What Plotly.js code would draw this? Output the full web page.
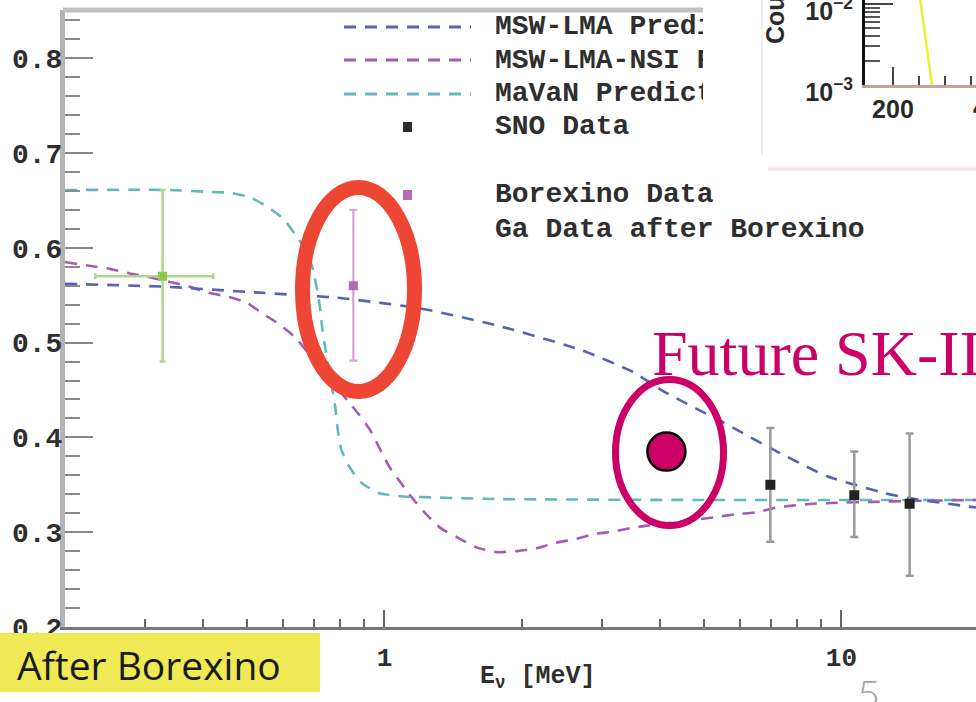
<!DOCTYPE html>
<html><head><meta charset="utf-8">
<script src="https://cdn.plot.ly/plotly-3.0.1.min.js"></script>
<style>
html,body{margin:0;padding:0;background:#fff;overflow:hidden;width:976px;height:702px}
#main{position:absolute;left:0;top:0;width:976px;height:702px}
#inset{position:absolute;left:703px;top:0;width:273px;height:175px;background:#fff}
</style></head><body>
<div id="main"></div><div id="inset"></div>
<script>
// ---------------- data ----------------
const mswE = [0.2, 0.33, 0.52, 0.8, 1.2, 1.8, 2.7, 3.5, 4.1, 5.5, 7.1, 9.3, 12.5, 14, 19.7];
const mswP = [0.562, 0.559, 0.553, 0.547, 0.536, 0.517, 0.492, 0.469, 0.448, 0.416, 0.387, 0.359, 0.341, 0.336, 0.326];

const nsiE = [0.2, 0.226, 0.25, 0.277, 0.306, 0.339, 0.369, 0.408, 0.458, 0.5, 0.54, 0.59, 0.636, 0.72, 0.83, 0.88, 0.93, 0.975, 1.025, 1.09, 1.16, 1.24, 1.33, 1.45, 1.59, 1.76, 1.95, 2.15, 2.38, 2.63, 2.88, 3.19, 3.52, 5.33, 5.89, 6.52, 7.21, 7.81, 8.64, 9.75, 11.7, 14.3, 19.7];
const nsiP = [0.585, 0.581, 0.578, 0.573, 0.569, 0.564, 0.560, 0.553, 0.548, 0.542, 0.531, 0.519, 0.506, 0.475, 0.439, 0.424, 0.408, 0.389, 0.369, 0.351, 0.334, 0.318, 0.304, 0.294, 0.284, 0.279, 0.280, 0.283, 0.289, 0.293, 0.298, 0.301, 0.305, 0.316, 0.319, 0.321, 0.326, 0.328, 0.330, 0.331, 0.332, 0.333, 0.334];

const mavE = [0.2, 0.34, 0.41, 0.46, 0.51, 0.555, 0.60, 0.636, 0.668, 0.696, 0.714, 0.724, 0.732, 0.743, 0.781, 0.789, 0.805, 0.838, 0.891, 0.975, 1.08, 1.76, 5, 19.7];
const mavP = [0.661, 0.661, 0.659, 0.658, 0.653, 0.643, 0.631, 0.615, 0.600, 0.579, 0.553, 0.534, 0.513, 0.493, 0.431, 0.411, 0.387, 0.369, 0.352, 0.341, 0.338, 0.335, 0.334, 0.334];

const gaE = [0.327], gaP = [0.570], gaPUp = [0.091], gaPDn = [0.090], gaEUp = [0.095], gaEDn = [0.094];
const boE = [0.855], boP = [0.560], boUp = [0.080], boDn = [0.079];
const snoE = [6.99, 10.67, 14.1], snoP = [0.350, 0.339, 0.330], snoUp = [0.060, 0.046, 0.074], snoDn = [0.060, 0.044, 0.076];
const skE = [4.14], skP = [0.385];

const legendLabels = ['MSW-LMA Prediction', 'MSW-LMA-NSI Prediction', 'MaVaN Prediction', 'SNO Data', 'Borexino Data', 'Ga Data after Borexino'];
const xTickVals = [1, 10], xTickText = ['1', '10'];
const xMinorVals = [0.3, 0.4, 0.5, 0.6, 0.7, 0.8, 0.9, 2, 3, 4, 5, 6, 7, 8, 9];

// inset (pasted spectrum)
const insX = [247, 275], insY = [0.0198, 0.001];
const insXTicks = [200], insXText = ['200'];
const insYTicks = [0.001, 0.01], insYText = ['10<sup>−3</sup>', '10<sup>−2</sup>'];
const insYMinor = [0.002, 0.003, 0.004, 0.005, 0.006, 0.007, 0.008, 0.009];
const insXMinor = [250, 300, 350];

// ---------------- colours ----------------
const cBlue = '#5662b6', cPurple = '#a25cb4', cCyan = '#62b9b9';
const mono = 'Liberation Mono, Courier New, monospace';

// ---------------- geometry ----------------
const W = 976, H = 702, ML = 65, MR = 0, MT = 10, MB = 75;
const PW = W - ML - MR, PH = H - MT - MB;
const px = v => (v - ML) / PW;          // pixel -> paper x
const py = v => (H - MB - v) / PH;      // pixel -> paper y
const pxPerDecade = 457;
const xr = [Math.log10(0.2), Math.log10(0.2) + PW / pxPerDecade];

const dash = '12px,9px';
const traces = [
  {x: mavE, y: mavP, mode: 'lines', line: {color: cCyan, width: 2.6, dash: dash, shape: 'spline', smoothing: 0.5}},
  {x: nsiE, y: nsiP, mode: 'lines', line: {color: cPurple, width: 2.6, dash: dash, shape: 'spline', smoothing: 0.5}},
  {x: mswE, y: mswP, mode: 'lines', line: {color: cBlue, width: 2.6, dash: dash, shape: 'spline', smoothing: 0.5}},
  {x: gaE, y: gaP, mode: 'markers', marker: {symbol: 'square', size: 9, color: '#8cc84f'},
   error_y: {type: 'data', array: gaPUp, arrayminus: gaPDn, color: '#a9d98b', thickness: 2.5, width: 3},
   error_x: {type: 'data', array: gaEUp, arrayminus: gaEDn, color: '#a9d98b', thickness: 2.5, width: 3}},
  {x: boE, y: boP, mode: 'markers', marker: {symbol: 'square', size: 9, color: '#b468b4'},
   error_y: {type: 'data', array: boUp, arrayminus: boDn, color: '#d4a4d4', thickness: 2.2, width: 4}},
  {x: snoE, y: snoP, mode: 'markers', marker: {symbol: 'square', size: 10, color: '#222'},
   error_y: {type: 'data', array: snoUp, arrayminus: snoDn, color: '#9a9a9a', thickness: 2.5, width: 4}},
  {x: skE, y: skP, mode: 'markers', marker: {symbol: 'circle', size: 38, color: '#cc0066', line: {color: '#000', width: 2.5}}}
];

const shapes = [
  // top frame line
  {type: 'line', xref: 'paper', yref: 'paper', x0: px(63), x1: 1, y0: 1, y1: 1, line: {color: '#c0c0c0', width: 5}, layer: 'above'},
  // red ellipse around Borexino
  {type: 'circle', xref: 'paper', yref: 'paper', x0: px(302.5), x1: px(414.5), y0: py(391.5), y1: py(187.5), line: {color: '#ee4634', width: 15}, layer: 'above'},
  // magenta ring around future point
  {type: 'circle', xref: 'paper', yref: 'paper', x0: px(615.5), x1: px(723.5), y0: py(525.5), y1: py(379.5), line: {color: '#cc0066', width: 7}, layer: 'above'},
  // yellow label box
  {type: 'rect', xref: 'paper', yref: 'paper', x0: px(-2), x1: px(320), y0: py(692), y1: py(633), fillcolor: '#efe955', line: {width: 0}, layer: 'above'},
  // legend line samples
  {type: 'line', xref: 'paper', yref: 'paper', x0: px(344), x1: px(471), y0: py(27), y1: py(27), line: {color: cBlue, width: 3, dash: dash}},
  {type: 'line', xref: 'paper', yref: 'paper', x0: px(344), x1: px(471), y0: py(60), y1: py(60), line: {color: cPurple, width: 3, dash: dash}},
  {type: 'line', xref: 'paper', yref: 'paper', x0: px(344), x1: px(471), y0: py(94), y1: py(94), line: {color: cCyan, width: 3, dash: dash}},
  {type: 'rect', xref: 'paper', yref: 'paper', x0: px(403), x1: px(412), y0: py(132), y1: py(122), fillcolor: '#2a2a2a', line: {width: 0}},
  {type: 'rect', xref: 'paper', yref: 'paper', x0: px(403), x1: px(412), y0: py(200), y1: py(190), fillcolor: '#b56cb5', line: {width: 0}}
];

const legY = [27, 60, 94, 126, 195, 229];
const annotations = legendLabels.map((t, i) => ({
  text: t, xref: 'paper', yref: 'paper', x: px(493), y: py(legY[i]), xanchor: 'left', yanchor: 'middle',
  showarrow: false, font: {family: mono, size: 28, weight: 'bold', color: '#2e2e2e'}
}));
annotations.push(
  {text: 'E<sub>ν</sub> [MeV]', xref: 'paper', yref: 'paper', x: px(478), y: py(677), xanchor: 'left', yanchor: 'middle',
   showarrow: false, font: {family: mono, size: 25, weight: 'bold', color: '#2e2e2e'}},
  {text: 'After Borexino', xref: 'paper', yref: 'paper', x: px(15), y: py(664), xanchor: 'left', yanchor: 'middle',
   showarrow: false, font: {family: 'Open Sans, sans-serif', size: 39, color: '#1a1a1a'}},
  {text: 'Future SK-II', xref: 'paper', yref: 'paper', x: px(650), y: py(353), xanchor: 'left', yanchor: 'middle',
   showarrow: false, font: {family: 'Liberation Serif, Times New Roman, serif', size: 64, color: '#cc0066'}},
  {text: '5', xref: 'paper', yref: 'paper', x: px(868), y: py(694), xanchor: 'center', yanchor: 'middle',
   showarrow: false, font: {family: 'Lato, sans-serif', size: 40, weight: 300, color: '#a2a2a2'}}
);

const layout = {
  width: W, height: H, margin: {l: ML, r: MR, t: MT, b: MB, pad: 0},
  paper_bgcolor: '#fff', plot_bgcolor: '#fff', showlegend: false,
  xaxis: {type: 'log', range: xr, showgrid: false, zeroline: false,
    showline: true, linecolor: '#777', linewidth: 3,
    ticks: 'inside', ticklen: 17, tickwidth: 2, tickcolor: '#666',
    tickvals: xTickVals, ticktext: xTickText, ticklabelstandoff: 5,
    tickfont: {family: mono, size: 26, weight: 'bold', color: '#2e2e2e'},
    minor: {tickvals: xMinorVals, ticks: 'inside', ticklen: 8, tickwidth: 2, tickcolor: '#666', showgrid: false}},
  yaxis: {range: [0.2, 0.2 + PH / 948], showgrid: false, zeroline: false,
    showline: true, linecolor: '#b4b4b4', linewidth: 5,
    tick0: 0.2, dtick: 0.1, tickformat: '.1f', ticklabelstandoff: -8,
    ticks: 'inside', ticklen: 28, tickwidth: 2, tickcolor: '#888',
    tickfont: {family: mono, size: 28, weight: 'bold', color: '#2e2e2e'},
    minor: {dtick: 0.02, tick0: 0.2, ticks: 'inside', ticklen: 15, tickwidth: 2, tickcolor: '#8a8a8a', showgrid: false}},
  shapes: shapes, annotations: annotations
};
Plotly.newPlot('main', traces, layout, {staticPlot: true, displayModeBar: false});

// ---------------- inset (pasted spectrum corner) ----------------
const IW = 273, IH = 175, IL = 162, IT = 0, IB = 90;
const ipx = v => (v - IL) / (IW - IL);
const ipy = v => (IH - IB - v) / (IH - IT - IB);
const insLayout = {
  width: IW, height: IH, margin: {l: IL, r: 0, t: IT, b: IB, pad: 0},
  paper_bgcolor: '#fff', plot_bgcolor: '#fff', showlegend: false,
  xaxis: {range: [146.2, 359.6], showgrid: false, zeroline: false, showline: true, linecolor: '#c9a0a0', linewidth: 3,
    ticks: 'inside', ticklen: 18, tickwidth: 2, tickcolor: '#444', tickvals: insXTicks, ticktext: insXText,
    tickfont: {family: 'Liberation Sans, Arial, sans-serif', size: 25, weight: 'bold', color: '#2a2a2a'},
    minor: {tickvals: insXMinor, ticks: 'inside', ticklen: 9, tickwidth: 2, tickcolor: '#444'}},
  yaxis: {type: 'log', range: [-3, -3 + 85 / 81], showgrid: false, zeroline: false, showline: true, linecolor: '#111', linewidth: 3,
    ticks: 'inside', ticklen: 28, tickwidth: 2, tickcolor: '#444', tickvals: insYTicks, ticktext: insYText,
    ticklabeloverflow: 'allow', ticklabelstandoff: 4, ticklabelshift: 7,
    tickfont: {family: 'Liberation Sans, Arial, sans-serif', size: 25, weight: 'bold', color: '#2a2a2a'},
    minor: {tickvals: insYMinor, ticks: 'inside', ticklen: 15, tickwidth: 2, tickcolor: '#555'}},
  shapes: [
    {type: 'line', xref: 'paper', yref: 'paper', x0: ipx(59), x1: ipx(59), y0: ipy(0), y1: ipy(155), line: {color: '#efefef', width: 2}},
    {type: 'line', xref: 'paper', yref: 'paper', x0: ipx(65), x1: ipx(273), y0: ipy(169), y1: ipy(169), line: {color: '#fde4e4', width: 3}}
  ],
  annotations: [
    {text: 'Counts', xref: 'paper', yref: 'paper', x: ipx(72), y: ipy(46), xanchor: 'center', yanchor: 'bottom', textangle: -90,
     showarrow: false, font: {family: 'Liberation Sans, Arial, sans-serif', size: 25, weight: 'bold', color: '#2a2a2a'}},
    {text: '400', xref: 'paper', yref: 'paper', x: ipx(291), y: ipy(107), xanchor: 'center', yanchor: 'middle',
     showarrow: false, font: {family: 'Liberation Sans, Arial, sans-serif', size: 25, weight: 'bold', color: '#2a2a2a'}}
  ]
};
Plotly.newPlot('inset', [{x: insX, y: insY, mode: 'lines', line: {color: '#eded3c', width: 2.5}}], insLayout, {staticPlot: true, displayModeBar: false});
</script></body></html>
